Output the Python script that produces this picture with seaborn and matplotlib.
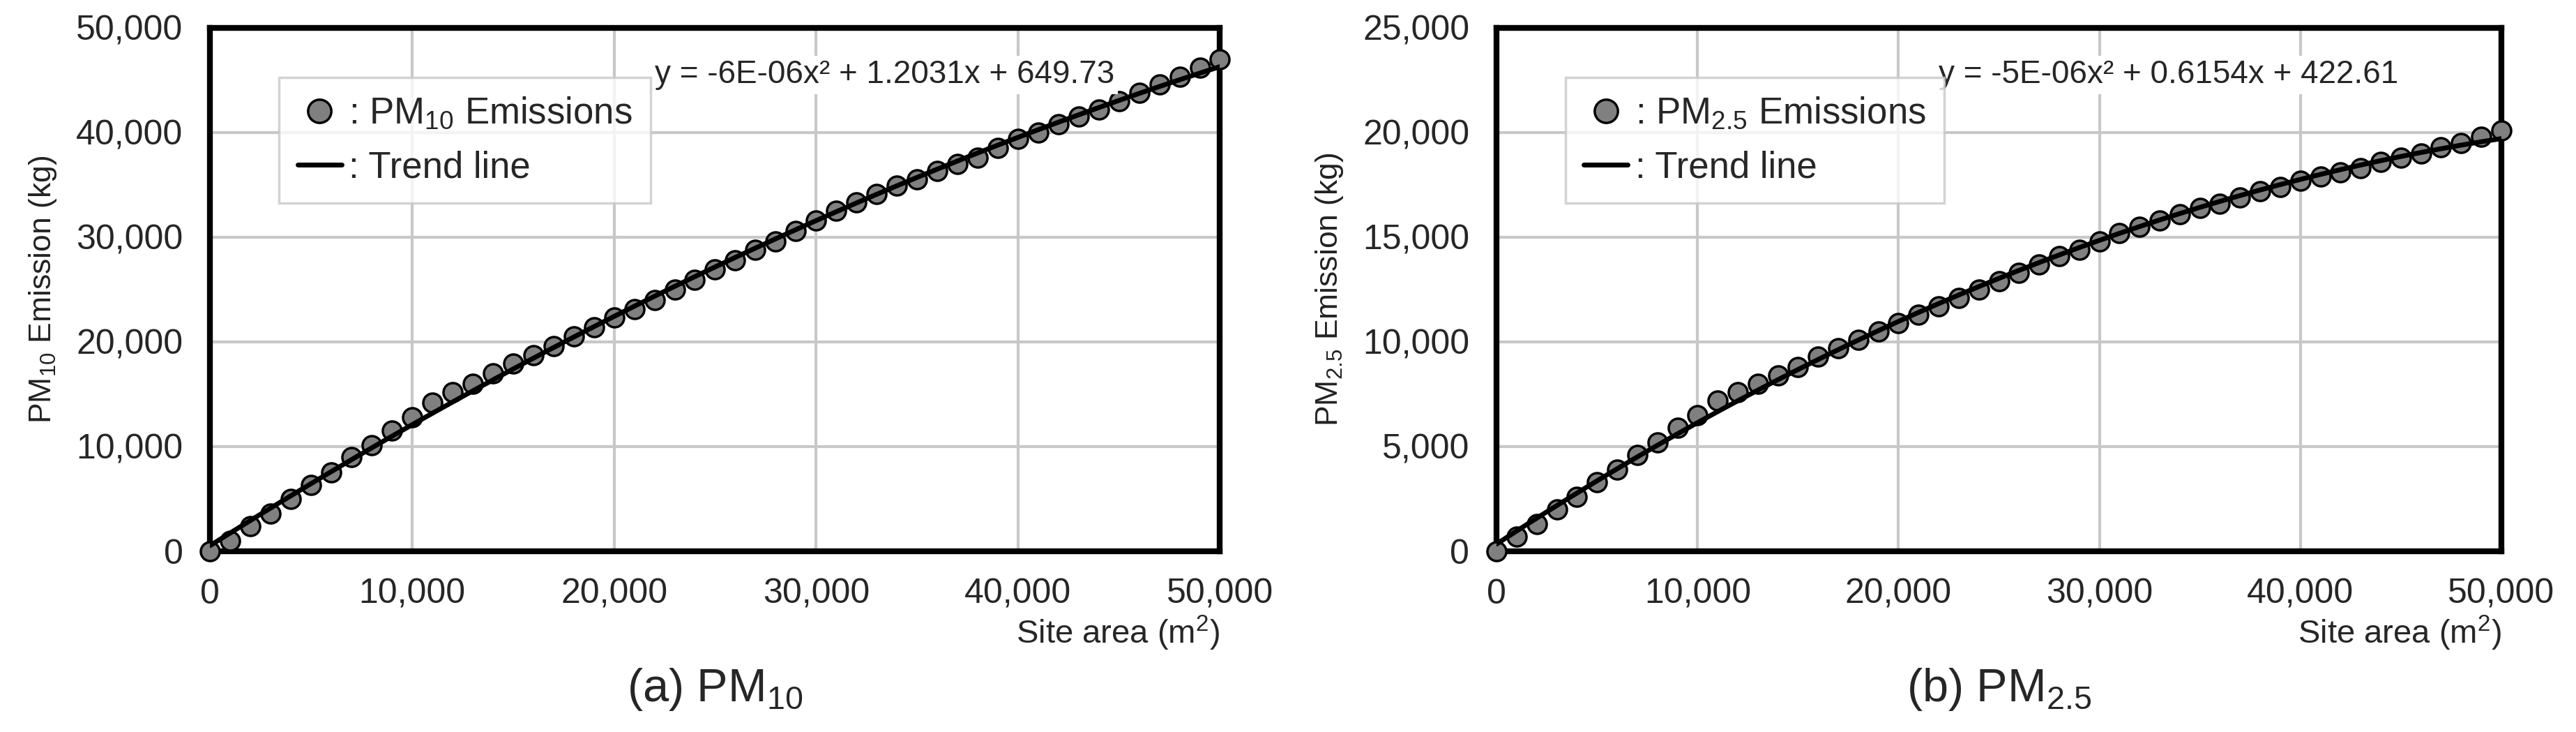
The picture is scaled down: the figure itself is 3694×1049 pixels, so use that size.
import numpy as np
import pandas as pd
import seaborn as sns
import matplotlib
matplotlib.use("Agg")
import matplotlib.pyplot as plt
from matplotlib.lines import Line2D

site_area = list(range(0, 50001, 1000))
pm10 = [0, 1000, 2400, 3600, 5000, 6300, 7500, 9000, 10100, 11500, 12800, 14200, 15200, 16000,
        17000, 17900, 18700, 19600, 20500, 21400, 22300, 23100, 24000, 25000, 25900, 26900,
        27800, 28800, 29600, 30600, 31600, 32500, 33300, 34100, 34900, 35500, 36300, 37000,
        37600, 38500, 39400, 40000, 40800, 41500, 42200, 43000, 43800, 44600, 45300, 46200, 47000]
pm25 = [0, 700, 1300, 2000, 2600, 3300, 3900, 4600, 5200, 5900, 6500, 7200, 7600, 8000, 8400,
        8800, 9300, 9700, 10100, 10500, 10900, 11300, 11700, 12100, 12500, 12900, 13300, 13700,
        14100, 14400, 14800, 15200, 15500, 15800, 16100, 16400, 16600, 16900, 17200, 17400,
        17700, 17900, 18100, 18300, 18600, 18800, 19000, 19300, 19500, 19800, 20100]

sns.set_theme(style="whitegrid")
plt.rcParams['font.family'] = ['Liberation Sans', 'DejaVu Sans']
plt.rcParams['mathtext.fontset'] = 'custom'
plt.rcParams['mathtext.rm'] = 'Liberation Sans'

fig = plt.figure(figsize=(36.94, 10.49), dpi=100)
ax1 = fig.add_axes([0.0816, 0.247, 0.392, 0.715])
ax2 = fig.add_axes([0.581, 0.247, 0.390, 0.715])

panels = [
    (ax1, pm10, 50000, "PM$_{10}$ Emission (kg)", "PM$_{10}$ Emissions",
     "y = -6E-06x² + 1.2031x + 649.73", "(a) PM$_{10}$"),
    (ax2, pm25, 25000, "PM$_{2.5}$ Emission (kg)", "PM$_{2.5}$ Emissions",
     "y = -5E-06x² + 0.6154x + 422.61", "(b) PM$_{2.5}$"),
]
for ax, vals, ymax, ylab, leglab, eq, cap in panels:
    df = pd.DataFrame({"x": site_area, "y": vals})
    sns.scatterplot(data=df, x="x", y="y", ax=ax, s=380, color="#808080",
                    edgecolor="black", linewidth=2.5, zorder=3, clip_on=False)
    sns.regplot(data=df, x="x", y="y", ax=ax, order=2, ci=None, scatter=False,
                truncate=True, line_kws=dict(color="black", lw=5, zorder=4))
    ax.set_xlim(0, 50000)
    ax.set_ylim(0, ymax)
    ax.set_xticks(np.arange(0, 50001, 10000))
    ax.set_yticks(np.linspace(0, ymax, 6))
    ax.xaxis.set_major_formatter(matplotlib.ticker.StrMethodFormatter("{x:,.0f}"))
    ax.yaxis.set_major_formatter(matplotlib.ticker.StrMethodFormatter("{x:,.0f}"))
    ax.tick_params(labelsize=36, pad=22)
    ax.grid(True, color="#c8c8c8", lw=3)
    for s in ax.spines.values():
        s.set_visible(True)
        s.set_color("black")
        s.set_linewidth(6)
    ax.set_ylabel(ylab, fontsize=32, labelpad=18, color="#222222")
    ax.set_xlabel("Site area (m$^2$)", fontsize=34, loc="right", labelpad=4)
    handles = [Line2D([], [], marker='o', ls='none', markersize=24, markerfacecolor="#808080",
                      markeredgecolor="black", markeredgewidth=2.5),
               Line2D([], [], color="black", lw=5)]
    leg = ax.legend(handles, [": " + leglab, ": Trend line"], loc="upper left",
                    bbox_to_anchor=(0.05, 0.94), fontsize=38, frameon=True, fancybox=False,
                    handlelength=1.2, handletextpad=0.2, borderpad=0.5, labelspacing=0.5)
    leg.get_frame().set_edgecolor("#c8c8c8")
    leg.get_frame().set_linewidth(2.5)
    ax.text(0.44, 0.91, eq, transform=ax.transAxes, fontsize=33, va="center",
            bbox=dict(facecolor="white", edgecolor="none", pad=4))
    ax.text(0.5, -0.22, cap, transform=ax.transAxes, fontsize=48, ha="center", va="top")

fig.savefig("out.png", dpi=100, facecolor="white")
